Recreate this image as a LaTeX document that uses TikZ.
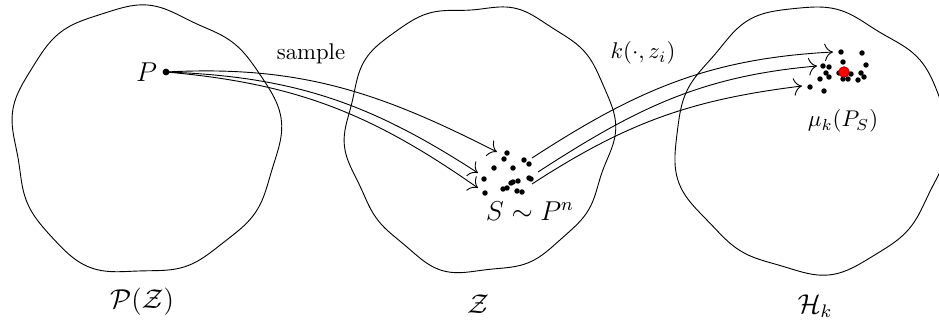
\documentclass[tikz,border=0pt]{standalone}
\usepackage{amsmath}
\usepackage{xcolor}
\usepackage{tikz}
\usetikzlibrary{arrows.meta, positioning}

\begin{document}
\begin{tikzpicture}[
    x=0.44pt, y=0.44pt,
    blob/.style={thin, black},
    dot/.style={circle, fill=black, inner sep=0pt, minimum size=2.4pt},
    bigdot/.style={circle, fill=black, inner sep=0pt, minimum size=3pt},
    mean/.style={circle, fill=red, draw=red!70!black, inner sep=0pt, minimum size=4.6pt},
    arrow/.style={-{To[length=1.3mm]}, thin},
    lbl/.style={inner sep=1pt},
]
    \useasboundingbox (0,0) rectangle (939,324);

    % Three spaces
    \draw[blob] plot[domain=0:357, samples=120, smooth cycle]
        ({144 + (133 + 1.8*sin(9*\x+20) + 3*sin(3*\x+70) + 1.5*sin(5*\x))*cos(\x)},
         {184 + (133 + 1.8*sin(9*\x+20) + 3*sin(3*\x+70) + 1.5*sin(5*\x))*sin(\x)});
    \draw[blob] plot[domain=0:357, samples=120, smooth cycle]
        ({479 + (133 + 1.8*sin(10*\x+60) + 3*sin(3*\x+10) + 1.5*sin(6*\x+30))*cos(\x)},
         {187 + (133 + 1.8*sin(10*\x+60) + 3*sin(3*\x+10) + 1.5*sin(6*\x+30))*sin(\x)});
    \draw[blob] plot[domain=0:357, samples=120, smooth cycle]
        ({811 + (133 + 1.8*sin(9*\x+110) + 3*sin(4*\x+40) + 1.5*sin(2*\x+80))*cos(\x)},
         {184 + (133 + 1.8*sin(9*\x+110) + 3*sin(4*\x+40) + 1.5*sin(2*\x+80))*sin(\x)});

    \node[font=\large] (PZ) at (142,22) {$\mathcal{P}(\mathcal{Z})$};
    \node[font=\large] (Z) at (478,20) {$\mathcal{Z}$};
    \node[font=\large] (Hk) at (815,18) {$\mathcal{H}_k$};

    % Distribution P
    \node[bigdot] (P) at (166,252) {};
    \node[lbl, font=\large, left=1pt of P] (Plbl) {$P$};

    % Sample S
    \foreach \px/\py [count=\i] in {507/171, 504/165, 494/156, 513/156, 524/164,
        529/160, 484/145, 513/142, 518/143, 529/146, 531/145, 503/135, 507/136,
        485/131, 517/133, 522/132, 511/141}
        \node[dot] (s\i) at (\px,\py) {};
    \node[font=\large] (Slbl) at (530,113) {$S \sim P^n$};

    % Embeddings
    \foreach \px/\py [count=\i] in {841/272, 862/271, 843/262, 866/259, 823/258,
        829/257, 826/251, 829/247, 820/245, 839/251, 851/250, 843/245, 848/245,
        861/251, 864/247, 858/244, 810/237, 824/233}
        \node[dot] (h\i) at (\px,\py) {};
    \node[mean] (mu) at (844,252) {};
    \node (mulbl) at (843,203) {$\mu_k(P_S)$};

    % Arrow ends
    \coordinate (a1) at (497,172);
    \coordinate (a2) at (478,151);
    \coordinate (a3) at (478,136);
    \coordinate (b1) at (532,166);
    \coordinate (b2) at (538,152);
    \coordinate (b3) at (532,140);
    \coordinate (c1) at (833,272);
    \coordinate (c2) at (817,258);
    \coordinate (c3) at (802,238);

    % Sampling arrows
    \draw[arrow] (P.center) to[out=3, in=153] (a1);
    \draw[arrow] (P.center) to[out=-2, in=147] (a2);
    \draw[arrow] (P.center) to[out=-5, in=145] (a3);
    \node (samplelbl) at (311,270) {sample};

    % Feature map arrows
    \draw[arrow] (b1) to[out=33, in=183] (c1);
    \draw[arrow] (b2) to[out=33, in=185] (c2);
    \draw[arrow] (b3) to[out=33, in=187] (c3);
    \node (klbl) at (643,271) {$k(\cdot, z_i)$};

\end{tikzpicture}
\end{document}
